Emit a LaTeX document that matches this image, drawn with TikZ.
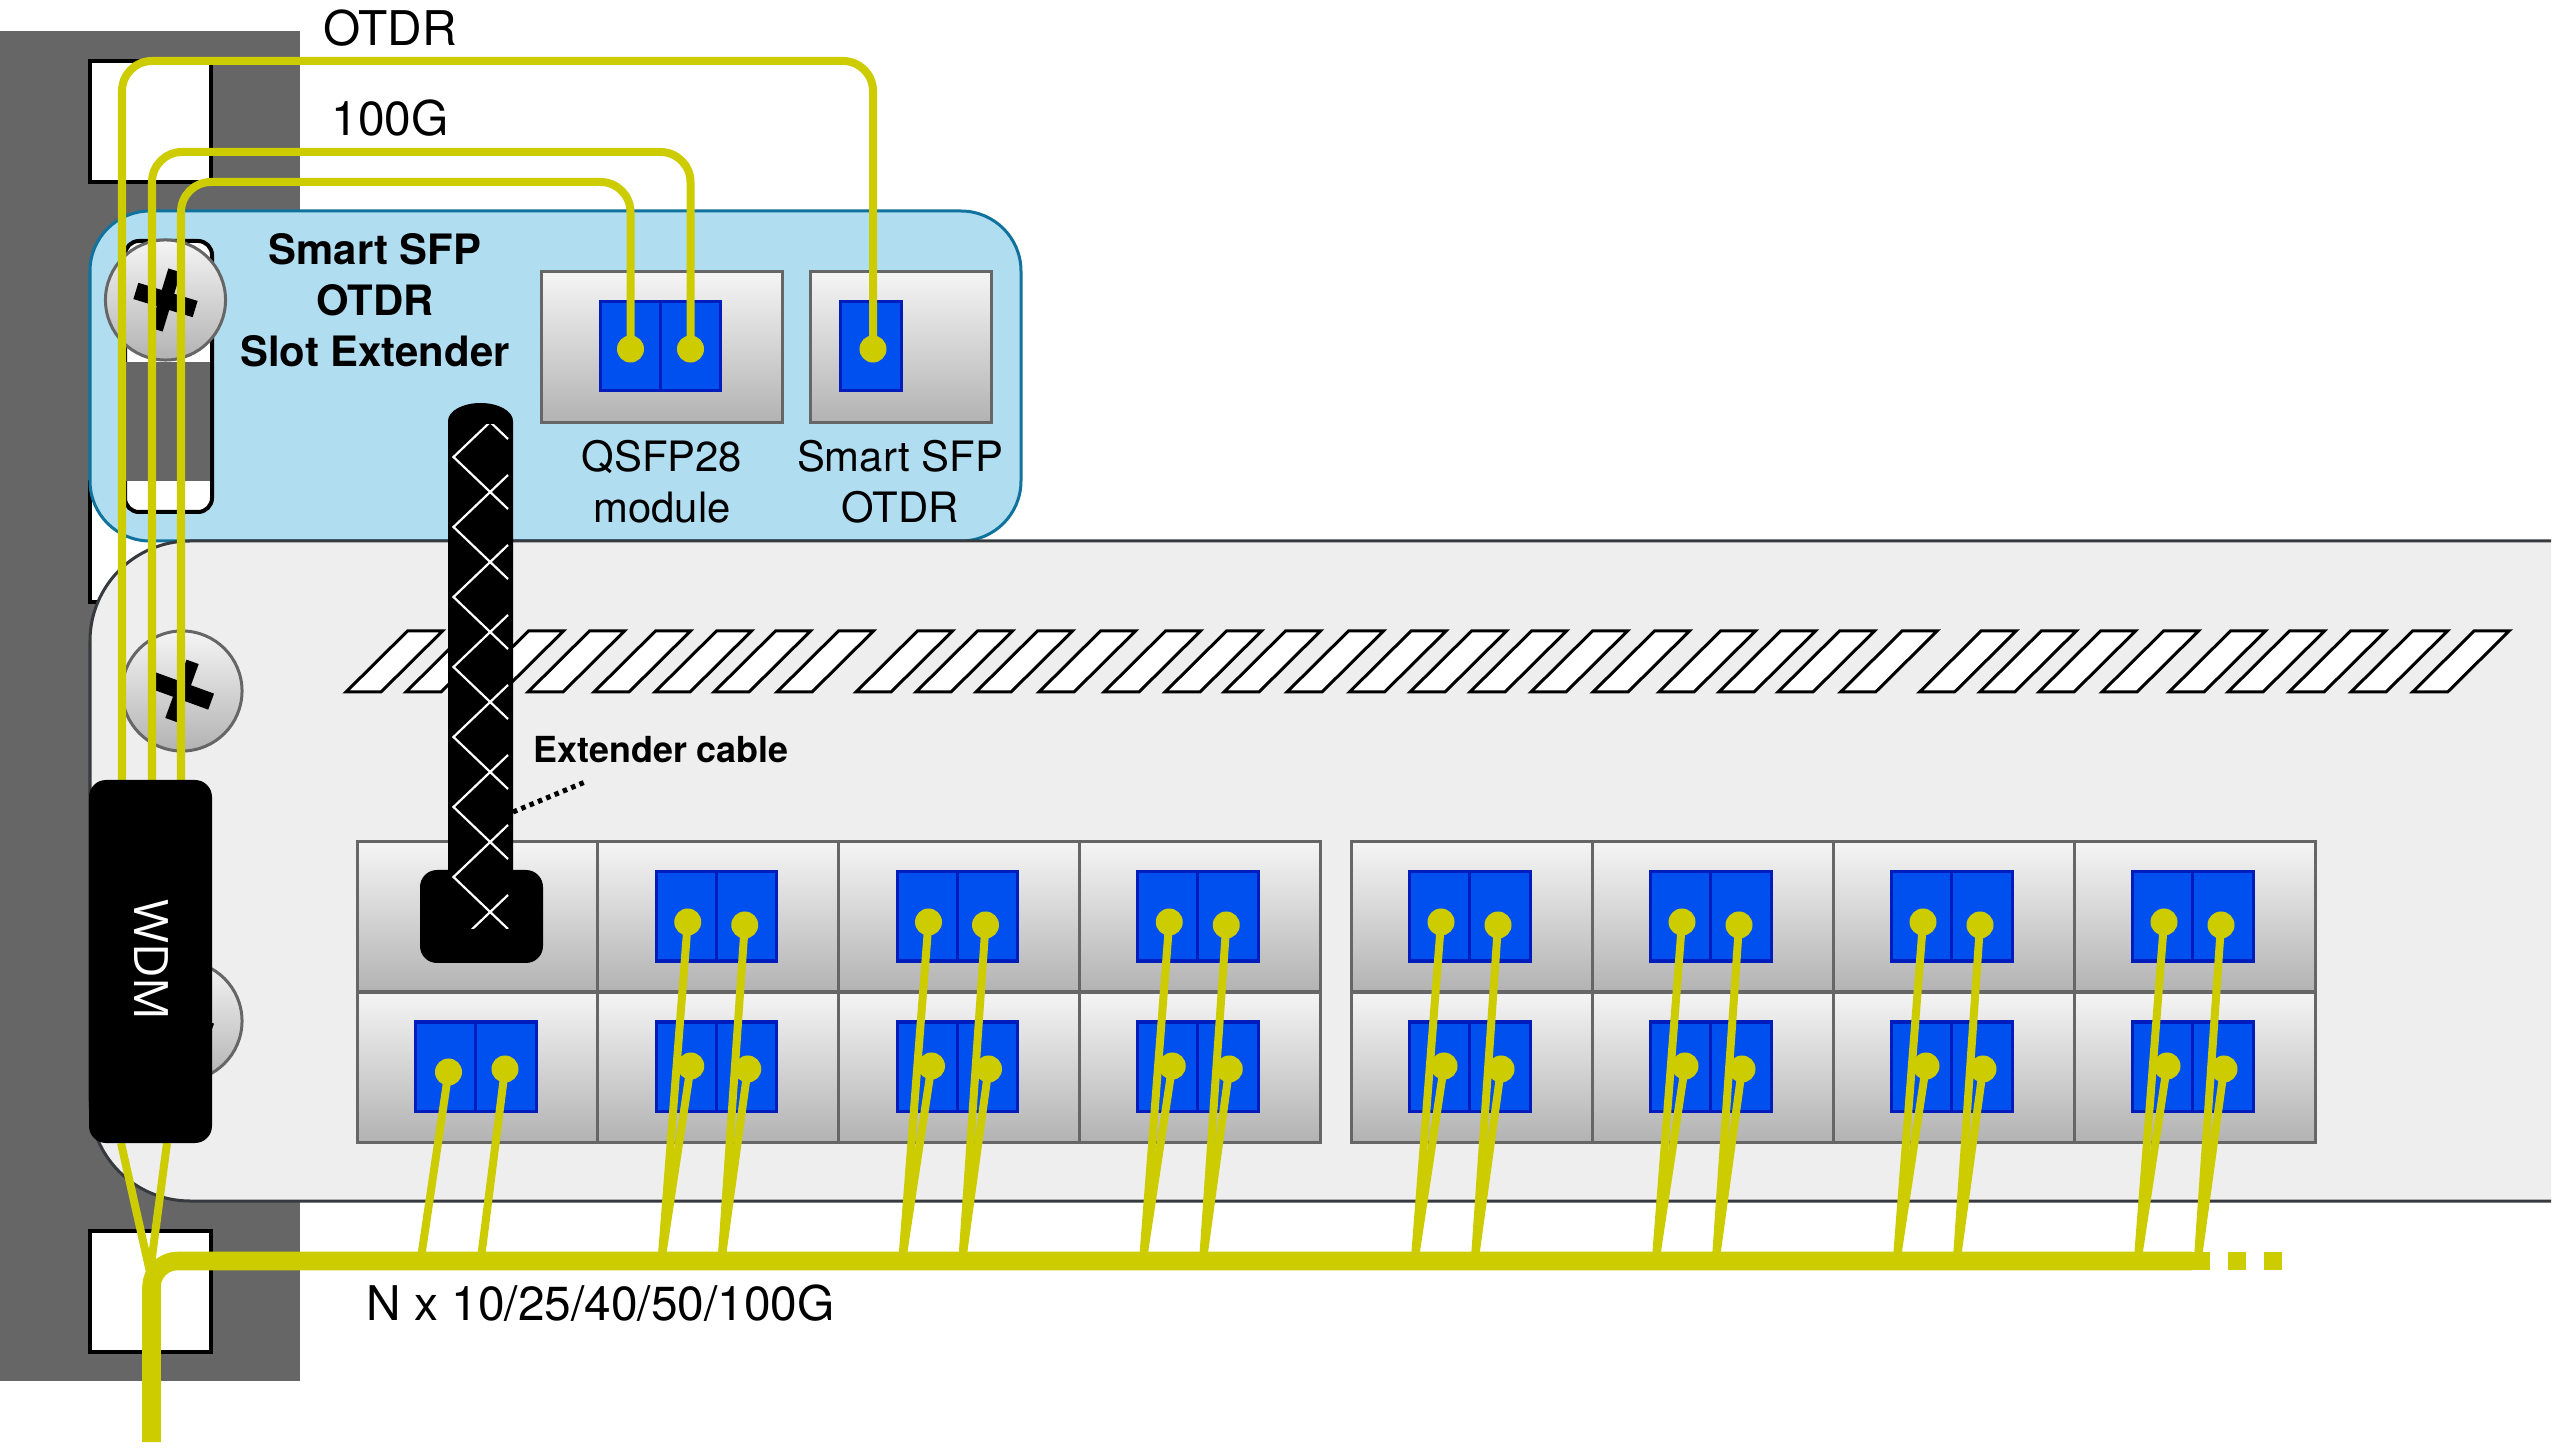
\documentclass[tikz,border=0pt]{standalone}
\usepackage{fontspec}
\setmainfont{TeX Gyre Heros}
\newfontfamily\wdmfont{Open Sans}
\definecolor{rackgray}{HTML}{666666}
\definecolor{fiber}{HTML}{CCCC00}
\definecolor{panelblue}{HTML}{B1DDF0}
\definecolor{paneledge}{HTML}{10739E}
\definecolor{swfill}{HTML}{EEEEEE}
\definecolor{swedge}{HTML}{36393D}
\definecolor{portfill}{HTML}{0050EF}
\definecolor{portedge}{HTML}{001DBC}
\tikzset{
  x=0.01cm, y=-0.01cm,
  hole/.style={draw=black, fill=white, line width=0.04cm},
  bevel/.style={draw=rackgray, line width=0.03cm, top color=white!96!black, bottom color=black!30},
  bay/.style={bevel, rectangle, inner sep=0pt, outer sep=0pt, minimum width=2.41cm, minimum height=1.5cm},
  portbox/.style={draw=portedge, fill=portfill, line width=0.03cm},
  stripe/.style={draw=black, fill=white, line width=0.03cm, miter limit=10},
  screwhead/.style={circle, inner sep=0pt, outer sep=0pt, minimum size=1.2cm, bevel},
  fibre/.style={draw=fiber, line width=0.08cm},
  fibretop/.style={fibre, rounded corners=0.3cm},
  trunk/.style={draw=fiber, line width=0.185cm},
  fibredot/.style={circle, fill=fiber, inner sep=0pt, minimum size=0.27cm},
  blackbox/.style={fill=black, rounded corners=0.17cm},
  label/.style={inner sep=0pt, align=center, font=\fontsize{13.6}{15.4}\selectfont},
  smalllabel/.style={label, font=\fontsize{11.9}{14.6}\selectfont},
  boldlabel/.style={label, font=\fontsize{11.9}{14.5}\selectfont\bfseries},
}
% Screw with a slanted cross-shaped recess
\newcommand{\screwat}[4]{%
  \node[screwhead] (#1) at (#2,#3) {};
  \begin{scope}[shift={(#2,#3)}, rotate=#4]
    \fill[black] (-31,-8.5) rectangle (31,8.5);
    \fill[black] (-6.5,-31) rectangle (6.5,31);
  \end{scope}}
\begin{document}
\begin{tikzpicture}
\useasboundingbox (0,0) rectangle (2556,1452);

% Rack rail and its mounting holes
\fill[rackgray] (0,31) rectangle (300,1381);
\draw[hole] (90,61) rectangle (211,182);
\draw[hole] (90,482) rectangle (211,602);
\draw[hole] (90,1231) rectangle (211,1352);

% Extender module faceplate
\draw[fill=panelblue, draw=paneledge, line width=0.03cm, rounded corners=0.6cm] (90,211) rectangle (1021,541);
\draw[hole, rounded corners=0.14cm] (125,241) rectangle (212,512);
\fill[rackgray] (125,362) rectangle (210,481);
\screwat{screwA}{165.5}{300}{-17}

% Switch chassis, open towards the right edge
\fill[swfill] (2551,541) -- (190,541) arc[start angle=90, end angle=180, x radius=100, y radius=-100]
  -- (90,1101) arc[start angle=180, end angle=270, x radius=100, y radius=-100] -- (2551,1201) -- cycle;
\draw[swedge, line width=0.03cm] (2551,541) -- (190,541) arc[start angle=90, end angle=180, x radius=100, y radius=-100]
  -- (90,1101) arc[start angle=180, end angle=270, x radius=100, y radius=-100] -- (2551,1201);

% Ventilation slots
\foreach \sx in {346,406,467,528,594,655,714,777,856,916,976,1039,1104,1165,1224,1287,1349.5,1410,1470,1531,1593,1659,1719,1778,1840.6,1919.6,1979.7,2039,2102,2169,2228,2289,2351,2412.6}
  \draw[stripe] (\sx,692) -- ++(35,0) -- ++(61.5,-61) -- ++(-35,0) -- cycle;

\screwat{screwB}{182}{691}{-20}
\screwat{screwC}{182}{1021}{-20}

% Front-panel bays: four plus four, two rows
\foreach \col/\cx in {0/357,1/597.75,2/838.5,3/1079.25,4/1351,5/1592,6/1833,7/2074} {
  \node[bay, anchor=north west] (bayT\col) at (\cx,842) {};
  \node[bay, anchor=north west] (bayB\col) at (\cx,992) {};
  \ifnum\col>0
    \draw[portbox] (\cx+58.5,872) rectangle (\cx+118.5,961);
    \draw[portbox] (\cx+118.5,872) rectangle (\cx+179,961);
  \fi
  \draw[portbox] (\cx+58.5,1022) rectangle (\cx+118.5,1111);
  \draw[portbox] (\cx+118.5,1022) rectangle (\cx+179,1111);
}

% Modules plugged into the extender
\node[bay, anchor=north west, minimum width=2.41cm] (qsfp) at (541,272) {};
\node[bay, anchor=north west, minimum width=1.81cm] (sfp) at (810,272) {};
\draw[portbox] (600.5,302) rectangle (660,391);
\draw[portbox] (660,302) rectangle (720,391);
\draw[portbox] (840.5,302) rectangle (901.5,391);

% Extender cable with braided sleeve, ending in its plug
\fill[black] (448,930) -- (448,421) arc[start angle=180, end angle=0, x radius=32.5, y radius=-18] -- (513,930) -- cycle;
\fill[blackbox] (420,870) rectangle (543,963);
\begin{scope}
  \clip (450,425) rectangle (509,929);
  \foreach \vy in {387,457,...,947}
    \draw[white, line width=0.022cm] (508,\vy-52) -- (453.5,\vy) -- (508,\vy+52);
\end{scope}
\coordinate (cableEdge) at (513,812);
\coordinate (cableNote) at (585,782);
\draw[black, line width=0.05cm, dash pattern=on 0.045cm off 0.045cm] (cableEdge) -- (cableNote);

% Splitter legs and the shared uplink
\coordinate (wdmA) at (122,780);
\coordinate (wdmB) at (152,780);
\coordinate (wdmC) at (181,780);
\coordinate (legL) at (121,1143);
\coordinate (legR) at (167,1143);
\coordinate (legJoin) at (150,1272);
\coordinate (trunkEnd) at (151.5,1442);
\coordinate (trunkStop) at (2192,1261);
\coordinate (dashStop) at (2282,1261);
\draw[fibre] (legL) -- (legJoin);
\draw[fibre] (legR) -- (legJoin);

% Patch fibres from each port down to the uplink
\foreach \col/\cx in {1/597.75,2/838.5,3/1079.25,4/1351,5/1592,6/1833,7/2074} {
  \node[fibredot] (dTa\col) at (\cx+90,922) {};
  \node[fibredot] (dTb\col) at (\cx+147,925) {};
  \node[fibredot] (dBa\col) at (\cx+93,1066) {};
  \node[fibredot] (dBb\col) at (\cx+150,1069) {};
  \coordinate (tapA\col) at (\cx+64,1258);
  \coordinate (tapB\col) at (\cx+124,1258);
  \draw[fibre] (dTa\col.center) -- (tapA\col);
  \draw[fibre] (dBa\col.center) -- (tapA\col);
  \draw[fibre] (dTb\col.center) -- (tapB\col);
  \draw[fibre] (dBb\col.center) -- (tapB\col);
}
\node[fibredot] (dBa0) at (448.5,1072) {};
\node[fibredot] (dBb0) at (505,1069) {};
\coordinate (tapA0) at (421,1258);
\coordinate (tapB0) at (481,1258);
\draw[fibre] (dBa0.center) -- (tapA0);
\draw[fibre] (dBb0.center) -- (tapB0);

\draw[trunk, rounded corners=0.26cm] (trunkEnd) -- (151.5,1261) -- (trunkStop);
\draw[trunk, dash pattern=on 0.18cm off 0.18cm] (trunkStop) -- (dashStop);

% Fibres looped over to the plugged modules
\node[fibredot] (qa) at (630.5,349) {};
\node[fibredot] (qb) at (690.5,349) {};
\node[fibredot] (sa) at (873,349) {};
\draw[fibretop] (wdmA) -- (122,61) -- (873,61) -- (sa.center);
\draw[fibretop] (wdmB) -- (152,152) -- (690.5,152) -- (qb.center);
\draw[fibretop] (wdmC) -- (181,182) -- (630.5,182) -- (qa.center);

% Splitter body
\fill[blackbox] (89,780) rectangle (212,1143);
\node[label, text=white, rotate=-90, font=\fontsize{13.5}{15}\wdmfont] (wdm) at (151,960) {WDM};

% Labels
\node[label] (otdrTag) at (390,28) {OTDR};
\node[label] (gTag) at (390,118) {100G};
\node[boldlabel] (title) at (375,300) {Smart SFP\\OTDR\\Slot Extender};
\node[smalllabel] (qsfpTag) at (662,482) {QSFP28\\module};
\node[smalllabel] (sfpTag) at (900,482) {Smart SFP\\OTDR};
\node[label, anchor=west, font=\fontsize{10.2}{12}\selectfont\bfseries] (cableTag) at (533,750) {Extender cable};
\node[label, anchor=west] (speedTag) at (366,1303) {N x 10/25/40/50/100G};
\end{tikzpicture}
\end{document}
